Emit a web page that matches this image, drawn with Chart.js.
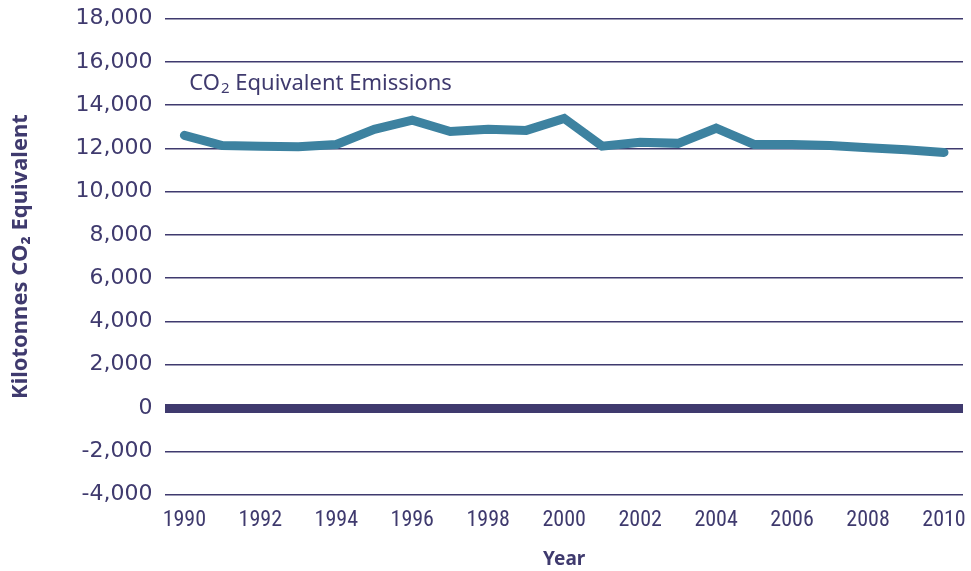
<!DOCTYPE html>
<html>
<head>
<meta charset="utf-8">
<script src="https://cdn.jsdelivr.net/npm/chart.js@4"></script>
<style>
  body { margin: 0; background: #fff; }
  #wrap { width: 971px; height: 571px; }
</style>
</head>
<body>
<div id="wrap"><canvas id="co2Chart"></canvas></div>
<script>
const years = ["1990","1991","1992","1993","1994","1995","1996","1997","1998","1999","2000",
               "2001","2002","2003","2004","2005","2006","2007","2008","2009","2010"];
const emissions = [12600, 12130, 12100, 12070, 12180, 12880, 13300, 12780, 12880, 12830, 13380,
                   12100, 12280, 12230, 12930, 12180, 12180, 12130, 12030, 11930, 11810];
const seriesLabel = "CO\u2082 Equivalent Emissions";

const ink = "#3f3a6e";
const font = "'Noto Sans', 'Open Sans', sans-serif";
const narrow = "'Liberation Sans Narrow', 'Roboto Condensed', 'Noto Sans', sans-serif";

// label written inside the plot, anchored to the scales
const seriesLabelPlugin = {
    id: "seriesLabel",
    afterDatasetsDraw(chart){
        const c = chart.ctx;
        const x = chart.scales.x.getPixelForValue(0) + 5;
        const y = chart.scales.y.getPixelForValue(15000);
        c.save();
        c.fillStyle = ink;
        c.font = "22px " + font;
        c.textBaseline = "middle";
        c.fillText("CO", x, y);
        let w = c.measureText("CO").width;
        c.font = "15px " + font;
        c.fillText("2", x + w + 1, y + 5);
        let w2 = c.measureText("2").width;
        c.font = "22px " + font;
        c.fillText(" Equivalent Emissions", x + w + w2 + 1, y);
        c.restore();
    }
};

new Chart("co2Chart", {
    type: "line",
    data: {
        labels: years,
        datasets: [{
            label: seriesLabel,
            data: emissions,
            borderColor: "#3d82a0",
            backgroundColor: "#3d82a0",
            borderWidth: 9,
            pointRadius: 0,
            borderCapStyle: "round",
            borderJoinStyle: "miter",
            tension: 0,
            fill: false
        }]
    },
    options: {
        responsive: true,
        maintainAspectRatio: false,
        animation: false,
        layout: { padding: { top: 0, right: 8, left: 8, bottom: 0 } },
        plugins: { legend: { display: false }, tooltip: { enabled: false } },
        scales: {
            x: {
                offset: true,
                grid: { display: false },
                border: { display: false },
                ticks: {
                    autoSkip: false,
                    maxRotation: 0,
                    color: ink,
                    font: { family: narrow, size: 22 },
                    padding: 5,
                    callback: function(v, i){ return i % 2 === 0 ? years[i] : ""; }
                },
                title: {
                    display: true,
                    text: "Year",
                    color: ink,
                    font: { family: font, size: 19, weight: "bold", lineHeight: 1.0 },
                    padding: { top: 11, bottom: 2 }
                }
            },
            y: {
                min: -4000,
                max: 18000,
                border: { display: false },
                grid: {
                    color: ink,
                    lineWidth: (ctx)=> ctx.tick && ctx.tick.value === 0 ? 9 : 1.5,
                    drawTicks: false
                },
                ticks: {
                    stepSize: 2000,
                    color: ink,
                    padding: 13,
                    font: { family: "'DejaVu Sans', sans-serif", size: 22, lineHeight: 0.5 },
                    callback: (v)=> v.toLocaleString("en-US")
                },
                title: {
                    display: true,
                    text: "Kilotonnes CO\u2082 Equivalent",
                    color: ink,
                    font: { family: font, size: 22, weight: "bold" },
                    padding: { top: 0, bottom: 28 }
                }
            }
        }
    },
    plugins: [seriesLabelPlugin]
});
</script>
</body>
</html>
